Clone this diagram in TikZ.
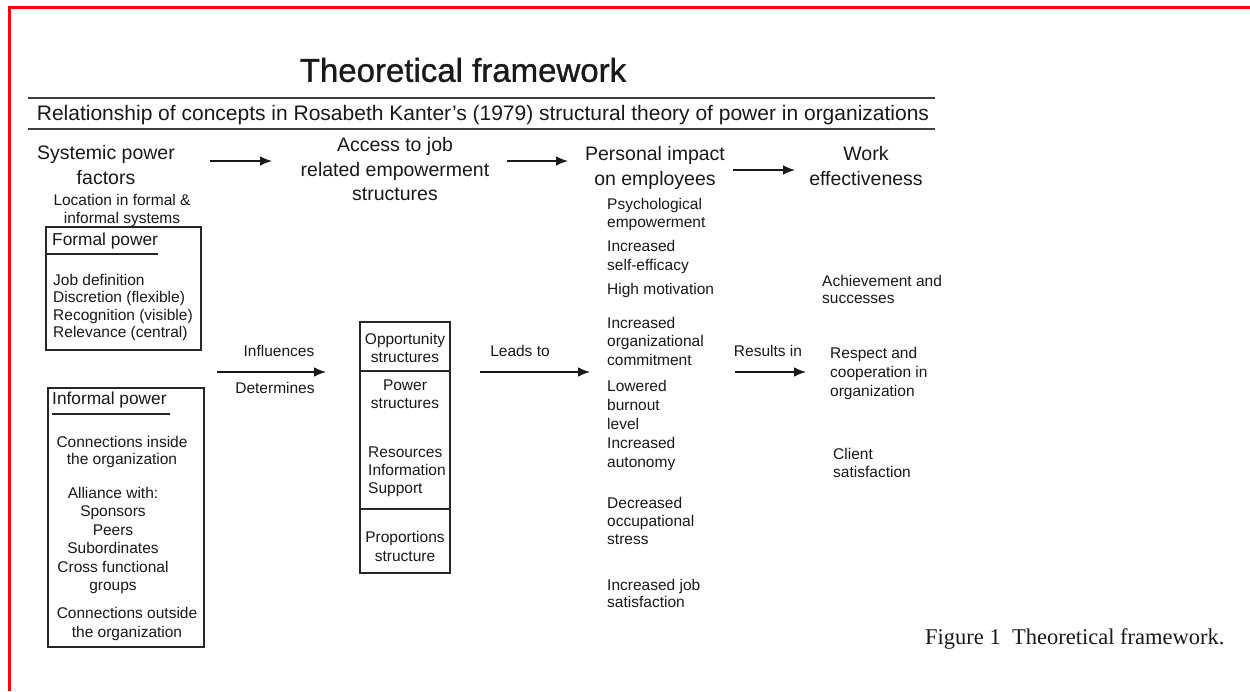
\documentclass[tikz,border=0pt]{standalone}
\usepackage{fontspec}
\setmainfont{Liberation Sans}
\newfontfamily\titlefont[AutoFakeBold=1.0]{Liberation Sans}
\newfontfamily\capfont{Liberation Serif}
\usetikzlibrary{arrows.meta}
\begin{document}
\begin{tikzpicture}[x=1pt,y=-1pt,
  txt/.style={inner sep=0pt, text=black!90, font=\fontsize{15.5}{18.5}\selectfont},
  lft/.style={txt, anchor=north west, align=left},
  ctr/.style={txt, anchor=north, align=center},
  hdr/.style={inner sep=0pt, anchor=north, align=center, text=black!90, font=\fontsize{19.5}{24.5}\selectfont},
  frame/.style={draw=black!85, line width=1.4pt, inner sep=0pt},
  rule/.style={draw=black!75, line width=1.5pt},
  arr/.style={draw=black!90, line width=1.3pt, -{Latex[length=12pt,width=9.5pt]}},
]
\useasboundingbox (0,0) rectangle (1250,691);
\fill[white] (0,0) rectangle (1250,691);
\draw[red, line width=3pt] (9.5,691) -- (9.5,7.5) -- (1250,7.5);

% title and rules
\node[inner sep=0pt, text=black!90, font=\titlefont\bfseries\fontsize{33}{40}\selectfont] (title) at (463,70) {Theoretical framework};
\draw[rule] (28,98) -- (935,98);
\node[inner sep=0pt, anchor=mid, text=black!90, font=\fontsize{21}{25}\selectfont] (sub) at (483,118) {Relationship of concepts in Rosabeth Kanter's (1979) structural theory of power in organizations};
\draw[rule] (28,129) -- (935,129);

% headers
\node[hdr] (sys) at (106,145.5) {Systemic power\\factors};
\node[hdr] (acc) at (395,137.5) {Access to job\\related empowerment\\structures};
\node[hdr] (pers) at (655,146.5) {Personal impact\\on employees};
\node[hdr] (work) at (866,146.5) {Work\\effectiveness};

\coordinate (a1s) at (210,161); \coordinate (a1e) at (272,161);
\coordinate (a2s) at (507,161); \coordinate (a2e) at (568,161);
\coordinate (a3s) at (733,170); \coordinate (a3e) at (795,170);
\draw[arr] (a1s) -- (a1e);
\draw[arr] (a2s) -- (a2e);
\draw[arr] (a3s) -- (a3e);

% left column
\node[ctr, font=\fontsize{15.5}{18}\selectfont] (loc) at (122,194) {Location in formal \&\\informal systems};

\node[frame, minimum width=155pt, minimum height=123pt] (fbox) at (123.5,288.5) {};
\node[txt, anchor=mid west, font=\fontsize{17.3}{20}\selectfont] (fhead) at (52,243) {Formal power};
\draw[line width=1.2pt, black!85] (46,254) -- (158,254);
\node[lft, font=\fontsize{15.5}{17.4}\selectfont] (fitems) at (53,274) {Job definition\\Discretion (flexible)\\Recognition (visible)\\Relevance (central)};

\node[frame, minimum width=156pt, minimum height=259pt] (ibox) at (126,517.5) {};
\node[txt, anchor=mid west, font=\fontsize{17.3}{20}\selectfont] (ihead) at (52,402) {Informal power};
\draw[line width=1.2pt, black!85] (52,414) -- (170,414);
\node[ctr, font=\fontsize{15.5}{16.8}\selectfont] (ia) at (122,436) {Connections inside\\the organization};
\node[ctr, font=\fontsize{15.5}{18.4}\selectfont] (ib) at (113,487) {Alliance with:\\Sponsors\\Peers\\Subordinates\\Cross functional\\groups};
\node[ctr, font=\fontsize{15.5}{19}\selectfont] (ic) at (127,607) {Connections outside\\the organization};

% middle
\node[txt, anchor=mid] (infl) at (279,354) {Influences};
\node[txt, anchor=mid] (det) at (275,391) {Determines};
\coordinate (b1s) at (217,372); \coordinate (b1e) at (326,372);
\draw[arr] (b1s) -- (b1e);

\node[frame, minimum width=90pt, minimum height=49pt] (s1) at (405,346.5) {};
\node[frame, minimum width=90pt, minimum height=138pt] (s2) at (405,440) {};
\node[frame, minimum width=90pt, minimum height=64pt] (s3) at (405,541) {};
\node[ctr, font=\fontsize{15.5}{18}\selectfont] (opp) at (405,333) {Opportunity\\structures};
\node[ctr, font=\fontsize{15.5}{18}\selectfont] (pow) at (405,380) {Power\\structures};
\node[lft, font=\fontsize{15.5}{18}\selectfont] (res) at (368,447) {Resources\\Information\\Support};
\node[ctr, font=\fontsize{15.5}{19}\selectfont] (prop) at (405,531) {Proportions\\structure};

\node[txt, anchor=mid] (leads) at (520,354) {Leads to};
\coordinate (b2s) at (480,372); \coordinate (b2e) at (590,372);
\draw[arr] (b2s) -- (b2e);

\node[txt, anchor=mid] (resin) at (768,354) {Results in};
\coordinate (b3s) at (735,372); \coordinate (b3e) at (806,372);
\draw[arr] (b3s) -- (b3e);

% personal impact items
\node[lft, font=\fontsize{15.5}{18}\selectfont] (p1) at (607,198) {Psychological\\empowerment};
\node[lft, font=\fontsize{15.5}{19}\selectfont] (p2) at (607,240) {Increased\\self-efficacy};
\node[lft] (p3) at (607,283) {High motivation};
\node[lft, font=\fontsize{15.5}{18.5}\selectfont] (p4) at (607,317) {Increased\\organizational\\commitment};
\node[lft, font=\fontsize{15.5}{19}\selectfont] (p5) at (607,380) {Lowered\\burnout\\level\\Increased\\autonomy};
\node[lft, font=\fontsize{15.5}{18}\selectfont] (p6) at (607,497) {Decreased\\occupational\\stress};
\node[lft, font=\fontsize{15.5}{17.5}\selectfont] (p7) at (607,579) {Increased job\\satisfaction};

% work effectiveness items
\node[lft, font=\fontsize{15.5}{17.5}\selectfont] (w1) at (822,275) {Achievement and\\successes};
\node[lft, font=\fontsize{15.5}{19}\selectfont] (w2) at (830,347) {Respect and\\cooperation in\\organization};
\node[lft, font=\fontsize{15.5}{18}\selectfont] (w3) at (833,448) {Client\\satisfaction};

% caption
\node[inner sep=0pt, anchor=mid west, text=black!90, font=\capfont\fontsize{22.5}{27}\selectfont] (cap) at (925,642) {Figure 1\enspace Theoretical framework.};
\end{tikzpicture}
\end{document}
